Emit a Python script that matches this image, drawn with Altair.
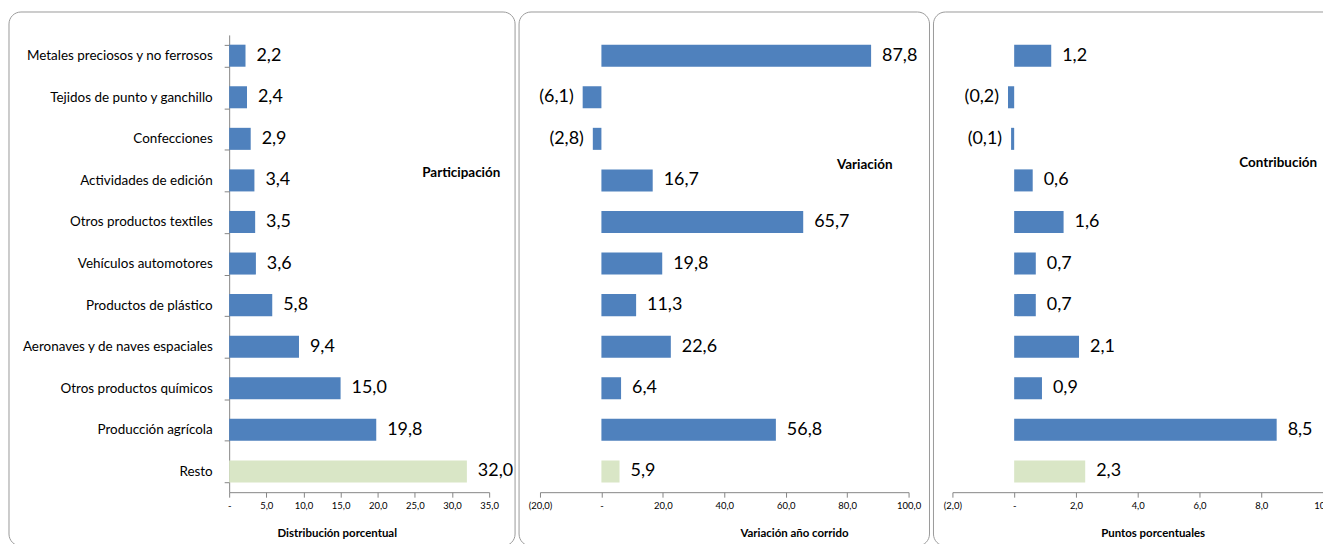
import altair as alt
import pandas as pd

categorias = [
    "Metales preciosos y no ferrosos",
    "Tejidos de punto y ganchillo",
    "Confecciones",
    "Actividades de edición",
    "Otros productos textiles",
    "Vehículos automotores ",
    "Productos de plástico",
    "Aeronaves y de naves espaciales",
    "Otros productos químicos",
    "Producción  agrícola",
    "Resto",
]
participacion = [2.2, 2.4, 2.9, 3.4, 3.5, 3.6, 5.8, 9.4, 15.0, 19.8, 32.0]
variacion = [87.8, -6.1, -2.8, 16.7, 65.7, 19.8, 11.3, 22.6, 6.4, 56.8, 5.9]
contribucion = [1.2, -0.2, -0.1, 0.6, 1.6, 0.7, 0.7, 2.1, 0.9, 8.5, 2.3]

ticks_part = [0, 5, 10, 15, 20, 25, 30, 35]
ticks_var = [-20, 0, 20, 40, 60, 80, 100]
ticks_con = [-2, 0, 2, 4, 6, 8, 10]

BLUE = "#4F81BD"
GREEN = "#D9E6C6"
AXIS_GRAY = "#868686"
BORDER = "#9A9A9A"
FONT = "Lato"
H = 459

df = pd.DataFrame({
    "cat": categorias,
    "part": participacion,
    "var": variacion,
    "con": contribucion,
})

num_expr = "replace(format(abs({v}), '.1f'), '.', ',')"
lab_expr = ("datum.value == 0 ? '-' : (datum.value < 0 ? '(' + " + num_expr.format(v="datum.value")
            + " + ')' : " + num_expr.format(v="datum.value") + ")")
txt_expr = ("datum.{f} < 0 ? '(' + " + "replace(format(abs(datum.{f}), '.1f'), '.', ',')" +
            " + ')' : replace(format(datum.{f}, '.1f'), '.', ',')")


def panel(field, domain, ticks, width, title, title_x, note, note_x, note_y, note_align,
          border_l, border_r, show_y):
    yscale = alt.Scale(domain=categorias, paddingInner=0.47, paddingOuter=0.235)
    if show_y:
        yaxis = alt.Axis(title=None, labelFont=FONT, labelFontSize=13.5, labelColor="#000000",
                         domainColor=AXIS_GRAY, tickColor=AXIS_GRAY, tickSize=5,
                         tickBand="extent", labelPadding=12, grid=False, labelLimit=300)
    else:
        yaxis = None
    xaxis = alt.Axis(values=ticks, labelExpr=lab_expr, title=title, titleFont=FONT,
                     titleFontSize=11.5, titleFontWeight="bold", titleColor="#000000",
                     titleX=title_x, titleY=41, titleBaseline="middle",
                     labelFont=FONT, labelFontSize=9.5, labelColor="#000000", labelPadding=3,
                     domainColor=AXIS_GRAY, tickColor=AXIS_GRAY, tickSize=5, grid=False,
                     labelFlush=False, labelOverlap=False)
    xscale = alt.Scale(domain=domain, nice=False, zero=False)
    base = alt.Chart(df)
    x = alt.X(f"{field}:Q", scale=xscale, axis=xaxis)
    y = alt.Y("cat:N", sort=categorias, scale=yscale, axis=yaxis)
    bars = base.mark_bar().encode(
        x=x, x2=alt.datum(0), y=y,
        color=alt.condition(alt.datum.cat == "Resto", alt.value(GREEN), alt.value(BLUE)),
    )
    labels_pos = base.transform_filter(f"datum.{field} >= 0").transform_calculate(
        txt=txt_expr.format(f=field)
    ).mark_text(align="left", baseline="middle", dx=11, font=FONT, fontSize=18, color="#000000").encode(
        x=x, y=y, text="txt:N")
    labels_neg = base.transform_filter(f"datum.{field} < 0").transform_calculate(
        txt=txt_expr.format(f=field)
    ).mark_text(align="right", baseline="middle", dx=-9, font=FONT, fontSize=18, color="#000000").encode(
        x=x, y=y, text="txt:N")
    border = alt.Chart(pd.DataFrame({"k": [0]})).mark_rect(
        filled=False, fill="transparent", stroke=BORDER, strokeWidth=1, cornerRadius=12
    ).encode(x=alt.value(border_l), x2=alt.value(width + border_r), y=alt.value(-23), y2=alt.value(H + 54))
    note_txt = alt.Chart(pd.DataFrame({"t": [note]})).mark_text(
        align=note_align, baseline="middle", font=FONT, fontSize=13.5, fontWeight="bold", color="#000000"
    ).encode(x=alt.value(note_x), y=alt.value(note_y), text="t:N")
    return alt.layer(border, bars, labels_pos, labels_neg, note_txt).properties(width=width, height=H)


p1 = panel("part", [0, 35], ticks_part, 261, "Distribución porcentual", 108,
           "Participación", 233, 139, "center", -221, 26, True)
p2 = panel("var", [-20, 100], ticks_var, 370, "Variación año corrido", 255,
           "Variación", 326, 131, "center", -21, 21, False)
p3 = panel("con", [-2, 10], ticks_con, 372, "Puntos porcentuales", 201,
           "Contribución", 288, 129, "left", -19, 20, False)

chart = alt.hconcat(p1, p2, p3, spacing=2).properties(
    padding={"left": 0, "top": 2, "right": -21, "bottom": -4}
).configure(font=FONT).configure_view(stroke="transparent", strokeWidth=0)

chart.save("out.html", embed_options={"renderer": "svg", "actions": False})
